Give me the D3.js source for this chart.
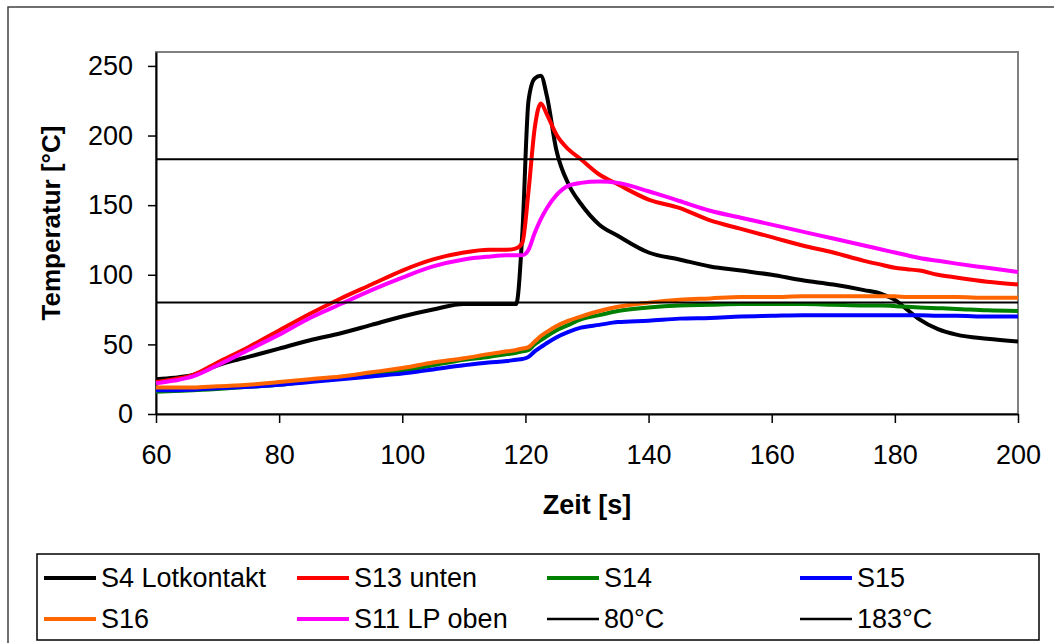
<!DOCTYPE html>
<html>
<head>
<meta charset="utf-8">
<script src="https://cdn.jsdelivr.net/npm/d3@7"></script>
<style>
  body { margin: 0; background: #fff; }
  svg { font-family: "Liberation Sans", Arial, sans-serif; }
</style>
</head>
<body>
<svg width="1054" height="643"></svg>
<script>
// time axis (s) shared by all series
var zeit = [60, 63, 66, 70, 75, 80, 85, 90, 95, 100, 105, 110, 114, 117, 118.5, 119.5, 120.5, 121.5, 122.5, 123.5,
            125, 127, 129, 132, 135, 140, 145, 150, 155, 160, 165, 170, 175, 178, 180, 182, 184, 187, 190, 195, 200];

var s4  = [25, 26, 28, 35, 41, 47, 53, 58, 64, 70, 75, 79, 79, 79, 79, 130, 225, 241, 243, 228,
           190, 165, 151, 136, 128, 116, 111, 106, 103, 100, 96, 93, 89, 86, 82, 75, 68, 61, 57, 54, 52];
var s13 = [23, 25, 28, 37, 48, 60, 72, 83, 93, 103, 111, 116, 118, 118, 119, 123, 160, 205, 223, 215,
           201, 190, 183, 172, 165, 154, 148, 139, 133, 127, 121, 116, 110, 107, 105, 104, 103, 100, 98, 95, 93];
var s14 = [16, 16.5, 17, 18, 19.5, 21, 23.5, 26, 28, 31, 35, 39, 41, 43, 44, 45, 46, 50, 53, 56,
           60, 64, 68, 71, 74, 76.5, 78, 78.5, 79, 79, 79, 78.5, 78, 78, 77.5, 77, 76.5, 76, 75.5, 74.5, 74];
var s15 = [17, 17, 17.5, 18.5, 19.5, 21, 23, 25, 27, 29, 32, 35, 37, 38, 39, 39.5, 41, 45, 48, 51,
           55, 59, 62, 64, 66, 67, 68.5, 69, 70, 70.5, 71, 71, 71, 71, 71, 71, 71, 70.5, 70.5, 70, 70];
var s16 = [19, 19, 19, 20, 21, 23, 25, 27, 30, 33, 37, 40, 43, 45, 46, 47, 48, 52, 56, 59,
           63, 67, 70, 74, 77, 80, 82, 83, 84, 84, 84.5, 84.5, 84.5, 84.5, 84.5, 84, 84, 84, 84, 83.5, 83.5];
var s11 = [22, 24, 27, 35, 46, 57, 69, 79, 89, 98, 106, 111, 113, 114, 114, 114, 118, 130, 140, 148,
           157, 164, 166, 167, 166, 160, 153, 146, 141, 136, 131, 126, 121, 118, 116, 114, 112, 110, 108, 105, 102];

var grenzen = [80, 183];   // horizontal reference lines
var xTicks = [60, 80, 100, 120, 140, 160, 180, 200];
var yTicks = [0, 50, 100, 150, 200, 250];

var serien = [
  { name: "S4 Lotkontakt", werte: s4,  farbe: "#000000" },
  { name: "S13 unten",     werte: s13, farbe: "#ff0000" },
  { name: "S14",           werte: s14, farbe: "#008000" },
  { name: "S15",           werte: s15, farbe: "#0000ff" },
  { name: "S16",           werte: s16, farbe: "#ff6600" },
  { name: "S11 LP oben",   werte: s11, farbe: "#ff00ff" }
];

var svg = d3.select("svg"),
    plot = { left: 156, top: 52, right: 1018, bottom: 414 };

// outer chart border
svg.append("rect").attr("x", 8).attr("y", 7).attr("width", 1060).attr("height", 660)
   .attr("fill", "none").attr("stroke", "#404040").attr("stroke-width", 1.5);

var x = d3.scaleLinear().domain([60, 200]).range([plot.left, plot.right]),
    y = d3.scaleLinear().domain([0, 260]).range([plot.bottom, plot.top]);

// plot frame (top / right gray)
svg.append("rect").attr("x", plot.left).attr("y", plot.top)
   .attr("width", plot.right - plot.left).attr("height", plot.bottom - plot.top)
   .attr("fill", "none").attr("stroke", "#808080").attr("stroke-width", 2);

var xAxis = d3.axisBottom(x).tickValues(xTicks).tickSize(9).tickPadding(22).tickSizeOuter(0),
    yAxis = d3.axisLeft(y).tickValues(yTicks).tickSize(8).tickPadding(15).tickSizeOuter(0);

var gx = svg.append("g").attr("transform", "translate(0," + plot.bottom + ")").call(xAxis);
var gy = svg.append("g").attr("transform", "translate(" + plot.left + ",0)").call(yAxis);
[gx, gy].forEach(function (g) {
  g.selectAll("path").attr("stroke", "#000").attr("stroke-width", 2);
  g.selectAll("line").attr("stroke", "#000").attr("stroke-width", 1.5);
  g.selectAll("text").attr("font-size", "27px").attr("fill", "#000")
   .attr("font-family", "Liberation Sans, Arial, sans-serif");
});

// series
var line = d3.line()
  .curve(d3.curveMonotoneX)
  .x(function (d, i) { return x(zeit[i]); })
  .y(function (d) { return y(d); });

serien.forEach(function (s) {
  svg.append("path").datum(s.werte)
     .attr("fill", "none").attr("stroke", s.farbe).attr("stroke-width", 4)
     .attr("stroke-linejoin", "round").attr("d", line);
});

// 80°C / 183°C lines
grenzen.forEach(function (g) {
  svg.append("line").attr("x1", x(60)).attr("x2", x(200)).attr("y1", y(g)).attr("y2", y(g))
     .attr("stroke", "#000").attr("stroke-width", 2);
});

// axis titles
svg.append("text").attr("x", 587).attr("y", 514).attr("text-anchor", "middle")
   .style("font-size", "27px").style("font-weight", "bold").text("Zeit [s]");
svg.append("text").attr("transform", "translate(60,223) rotate(-90)").attr("text-anchor", "middle")
   .style("font-size", "26px").style("font-weight", "bold").text("Temperatur [°C]");

// legend
svg.append("rect").attr("x", 37).attr("y", 554).attr("width", 1002).attr("height", 86)
   .attr("fill", "none").attr("stroke", "#000").attr("stroke-width", 1.5);

var legendItems = serien.map(function (s) { return { name: s.name, farbe: s.farbe, dick: 4 }; })
  .concat(grenzen.map(function (g) { return { name: g + "°C", farbe: "#000", dick: 2.5 }; }));
var colX = [44, 297, 547, 800], rowY = [578, 619];

legendItems.forEach(function (d, i) {
  var lx = colX[i % 4], ly = rowY[Math.floor(i / 4)];
  svg.append("line").attr("x1", lx).attr("x2", lx + 52).attr("y1", ly).attr("y2", ly)
     .attr("stroke", d.farbe).attr("stroke-width", d.dick);
  svg.append("text").attr("x", lx + 57).attr("y", ly).attr("dy", "0.35em")
     .style("font-size", "27px").text(d.name);
});
</script>
</body>
</html>
